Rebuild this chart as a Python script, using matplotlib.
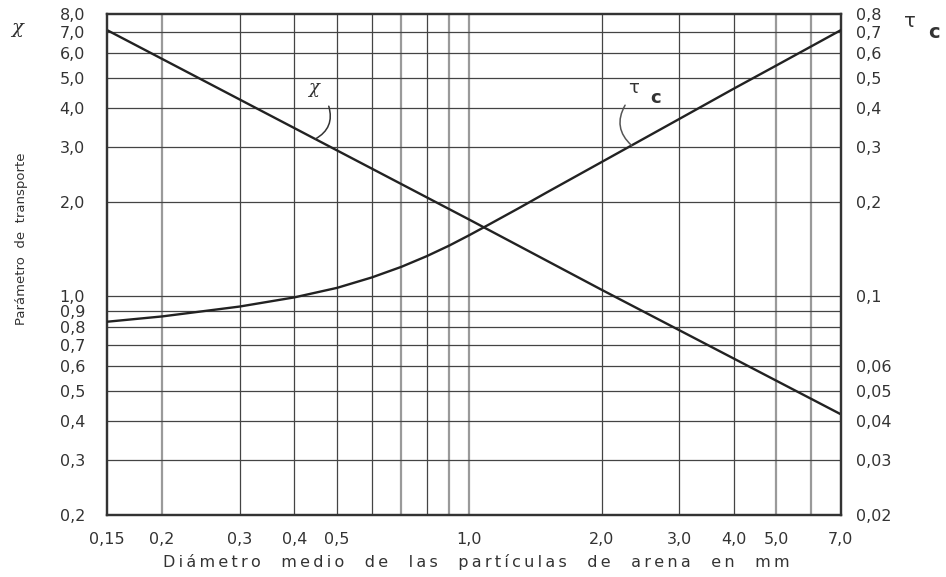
import numpy as np
import matplotlib
matplotlib.use('Agg')
import matplotlib.pyplot as plt
from matplotlib.ticker import FixedLocator, FixedFormatter, NullLocator

# diámetro medio de las partículas (mm) y parámetros de transporte
d_chi = [0.15, 0.5, 1.0, 2.0, 7.0]
chi = [7.1, 2.93, 1.76, 1.05, 0.42]

d_tau = [0.15, 0.2, 0.3, 0.4, 0.5, 0.6, 0.7, 0.8, 0.9, 1.0, 1.1, 1.3, 1.5,
         2.0, 3.0, 4.0, 5.0, 7.0]
tau_c = [0.083, 0.0863, 0.0928, 0.0993, 0.1065, 0.115, 0.1243, 0.1345,
         0.1454, 0.157, 0.1688, 0.192, 0.215, 0.269, 0.369, 0.462, 0.548,
         0.71]

x_ticks = [0.15, 0.2, 0.3, 0.4, 0.5, 1.0, 2.0, 3.0, 4.0, 5.0, 7.0]
x_labels = ['0,15', '0,2', '0,3', '0,4', '0,5', '1,0', '2,0', '3,0',
            '4,0', '5,0', '7,0']
chi_ticks = [0.2, 0.3, 0.4, 0.5, 0.6, 0.7, 0.8, 0.9, 1.0,
             2.0, 3.0, 4.0, 5.0, 6.0, 7.0, 8.0]
chi_labels = ['0,2', '0,3', '0,4', '0,5', '0,6', '0,7', '0,8', '0,9', '1,0',
              '2,0', '3,0', '4,0', '5,0', '6,0', '7,0', '8,0']
tau_ticks = [0.02, 0.03, 0.04, 0.05, 0.06, 0.1, 0.2, 0.3, 0.4, 0.5, 0.6,
             0.7, 0.8]
tau_labels = ['0,02', '0,03', '0,04', '0,05', '0,06', '0,1', '0,2', '0,3',
              '0,4', '0,5', '0,6', '0,7', '0,8']

x_grid = [0.2, 0.3, 0.4, 0.5, 0.6, 0.7, 0.8, 0.9, 1.0, 2.0, 3.0, 4.0, 5.0, 6.0]
x_grid_light = [0.2, 0.7, 0.9, 1.0, 5.0, 6.0]
y_grid = [0.3, 0.4, 0.5, 0.6, 0.7, 0.8, 0.9, 1.0, 2.0, 3.0, 4.0, 5.0, 6.0, 7.0]


def spaced(s, word_gap=3):
    # letter-spaced text, words kept further apart
    words = s.split(' ')
    return (' ' * word_gap).join('\u2009'.join(w) for w in words)


def log_interp(x0, xs, ys):
    return 10 ** np.interp(np.log10(x0), np.log10(xs), np.log10(ys))


plt.rcParams['font.family'] = ['DejaVu Sans']
ink = '#222222'
txt = '#333333'

fig = plt.figure(figsize=(9.46, 5.77), dpi=100)
ax = fig.add_axes([0.1134, 0.1075, 0.7753, 0.8682])
ax.set_xscale('log')
ax.set_yscale('log')
ax.set_xlim(0.15, 7.0)
ax.set_ylim(0.2, 8.0)

for xv in x_grid:
    light = xv in x_grid_light
    ax.axvline(xv, color='#9a9a9a' if light else '#444444',
               lw=1.6 if light else 0.9, zorder=1)
for yv in y_grid:
    ax.axhline(yv, color='#444444', lw=0.9, zorder=1)

ax.plot(d_chi, chi, color=ink, lw=1.7, zorder=3)

ax.xaxis.set_major_locator(FixedLocator(x_ticks))
ax.xaxis.set_major_formatter(FixedFormatter(x_labels))
ax.xaxis.set_minor_locator(NullLocator())
ax.yaxis.set_major_locator(FixedLocator(chi_ticks))
ax.yaxis.set_major_formatter(FixedFormatter(chi_labels))
ax.yaxis.set_minor_locator(NullLocator())
ax.tick_params(axis='x', length=0, pad=12, labelsize=11.5, colors=txt)
ax.tick_params(axis='y', length=0, pad=16, labelsize=11.5, colors=txt)

ax2 = ax.twinx()
ax2.set_yscale('log')
ax2.set_ylim(0.02, 0.8)
ax2.plot(d_tau, tau_c, color=ink, lw=1.7, zorder=3)
ax2.yaxis.set_major_locator(FixedLocator(tau_ticks))
ax2.yaxis.set_major_formatter(FixedFormatter(tau_labels))
ax2.yaxis.set_minor_locator(NullLocator())
ax2.tick_params(axis='y', length=0, pad=11, labelsize=11.5, colors=txt)

for a in (ax, ax2):
    for sp in a.spines.values():
        sp.set_linewidth(1.6)
        sp.set_color('#333333')

# curve labels with their leader lines
chi_at = log_interp(0.446, d_chi, chi)
ax.text(0.2805, 0.852, 'χ', transform=ax.transAxes, ha='center', va='center',
        fontsize=13, family='DejaVu Serif', style='italic', color=txt)
ax.annotate('', xy=(0.446, chi_at), xytext=(0.302, 0.816),
            textcoords='axes fraction',
            arrowprops=dict(arrowstyle='-', color=txt, lw=1.1,
                            connectionstyle='arc3,rad=-0.4',
                            shrinkA=0, shrinkB=0))

tau_at = log_interp(2.34, d_tau, tau_c)
ax2.text(0.717, 0.852, 'τ', transform=ax.transAxes, ha='center', va='center',
         fontsize=13, color=txt)
ax2.text(0.747, 0.832, 'c', transform=ax.transAxes, ha='center', va='center',
         fontsize=13, fontweight='bold', color=txt)
ax2.annotate('', xy=(2.34, tau_at), xytext=(0.706, 0.818),
             textcoords='axes fraction',
             arrowprops=dict(arrowstyle='-', color='#555555', lw=1.1,
                             connectionstyle='arc3,rad=0.4',
                             shrinkA=0, shrinkB=0))

# axis titles
fig.text(0.018, 0.951, 'χ', ha='center', va='center', fontsize=14,
         family='DejaVu Serif', style='italic', color=txt)
fig.text(0.962, 0.962, 'τ', ha='center', va='center', fontsize=14, color=txt)
fig.text(0.987, 0.943, 'c', ha='center', va='center', fontsize=14,
         fontweight='bold', color=txt)
fig.text(0.023, 0.587, 'Parámetro  de  transporte', rotation=90,
         ha='center', va='center', fontsize=9.5, color=txt)
fig.text(0.504, 0.026,
         spaced('Diámetro medio de las partículas de arena en mm', 4),
         ha='center', va='center', fontsize=11.5, color=txt)

fig.savefig('out.png', dpi=100)
